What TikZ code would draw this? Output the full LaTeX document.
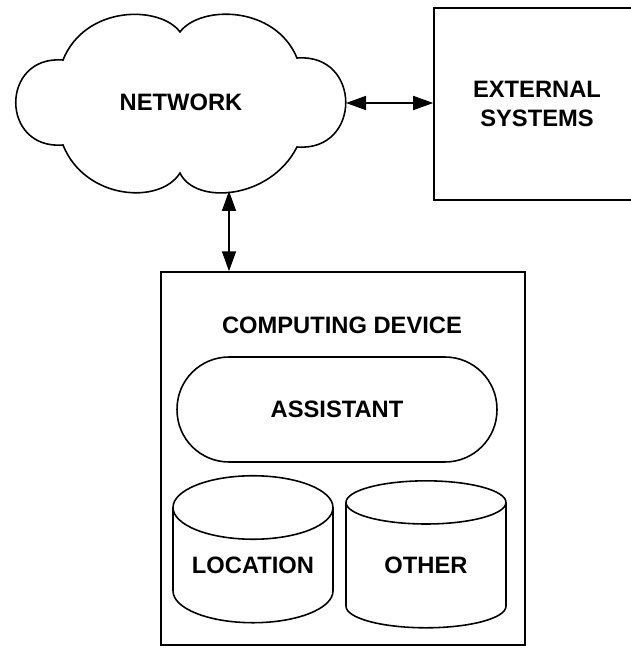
\documentclass[tikz,border=0pt]{standalone}
\usepackage{fontspec}
\setmainfont{Liberation Sans}
\usetikzlibrary{arrows.meta, shapes.geometric}

\tikzset{
    lbl/.style={font=\fontsize{13.5}{16}\selectfont\bfseries, align=center},
    blk/.style={draw, line width=0.9pt, inner sep=0pt},
    db/.style={cylinder, shape border rotate=90, aspect=0.52, draw, line width=0.9pt, inner sep=0pt},
    link/.style={line width=0.9pt, {Triangle[length=4mm,width=2.8mm]}-{Triangle[length=4mm,width=2.8mm]}}
}

\begin{document}
\begin{tikzpicture}[x=0.02cm, y=-0.02cm]
    \useasboundingbox (0,0) rectangle (630,649);

    \draw[line width=0.9pt] (180,32) .. controls (160,5) and (85,5) .. (63,60)
        .. controls (0,55) and (0,150) .. (63,145)
        .. controls (85,200) and (160,205) .. (180,173)
        .. controls (195,205) and (270,200) .. (297,147)
        .. controls (362,152) and (362,53) .. (297,58)
        .. controls (275,5) and (200,5) .. (180,32) -- cycle;
    \node[lbl] (net) at (181,102) {NETWORK};
    \coordinate (netE) at (346,103);
    \coordinate (netS) at (229,191);

    \node[blk, lbl, minimum width=4.12cm, minimum height=3.84cm] (ext) at (537,104) {EXTERNAL\\SYSTEMS};

    \node[blk, minimum width=7.28cm, minimum height=7.46cm] (dev) at (343,458.5) {};
    \node[lbl] (devtitle) at (342,325) {COMPUTING DEVICE};
    \node[blk, lbl, rounded corners=1.04cm, minimum width=6.4cm, minimum height=2.1cm] (asst) at (337,409.5) {ASSISTANT};

    \node[db, lbl, minimum width=3.2cm, minimum height=2.94cm] (loc) at (253,565.5) {LOCATION};
    \node[db, lbl, minimum width=3.2cm, minimum height=2.94cm] (oth) at (426,565.5) {OTHER};

    \draw[link] (netE) -- (netE -| ext.west);
    \draw[link] (netS) -- (netS |- dev.north);
\end{tikzpicture}
\end{document}
